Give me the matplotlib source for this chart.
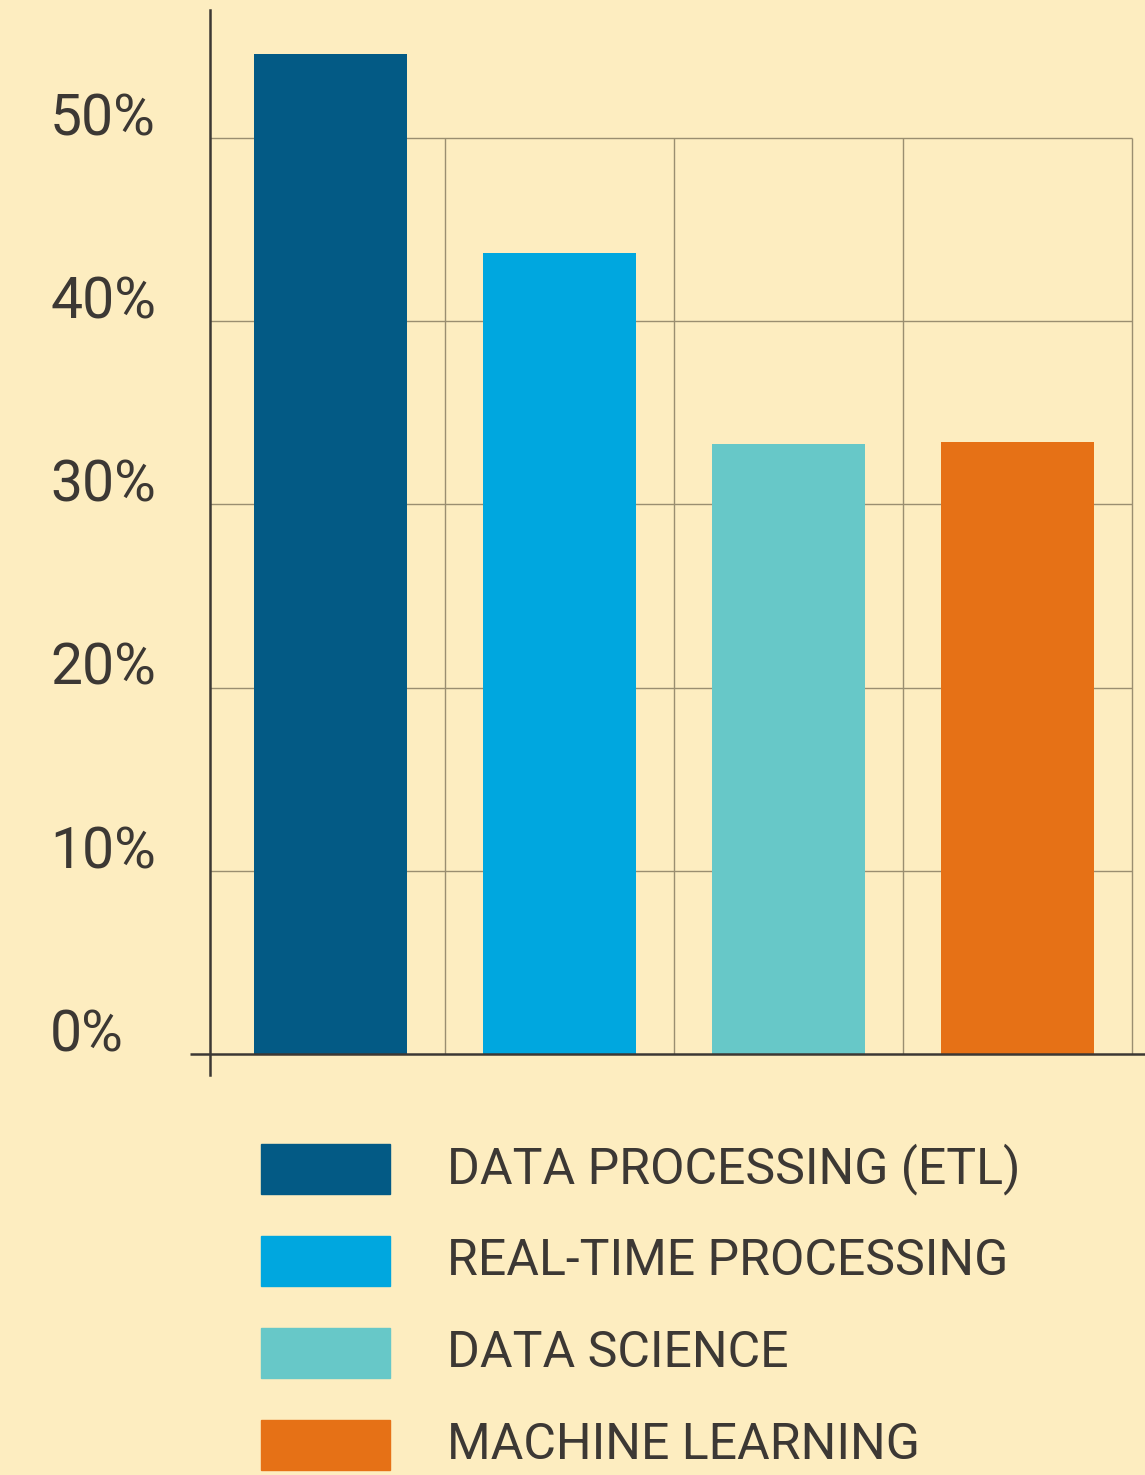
"""Share of respondents per workload type, bar chart on a cream background."""

import matplotlib.pyplot as plt
from matplotlib.patches import Rectangle

categories = ["DATA PROCESSING (ETL)", "REAL-TIME PROCESSING",
              "DATA SCIENCE", "MACHINE LEARNING"]
shares = [54.6, 43.7, 33.3, 33.4]
colors = ["#035a85", "#00a7df", "#67c8c8", "#e67116"]
y_ticks = [0, 10, 20, 30, 40, 50]
tick_labels = ["0%", "10%", "20%", "30%", "40%", "50%"]

BG = "#fdedc0"
INK = "#3c3834"
GRID = "#9a8e70"
W, H = 1145, 1475
AX_LEFT = 210  # px

plt.rcParams["font.family"] = ["Roboto", "DejaVu Sans"]


def main():
    fig = plt.figure(figsize=(W / 100, H / 100), dpi=100, facecolor=BG)
    ax = fig.add_axes([AX_LEFT / W, 1 - 1075 / H, 1 - AX_LEFT / W, (1075 - 10) / H])
    ax.set_facecolor(BG)

    xs = list(range(len(categories)))
    ax.bar(xs, shares, width=0.67, color=colors, zorder=3)

    ax.set_xlim(-0.526, 3.557)
    ax.set_ylim(-1.146, 56.99)

    # grid: horizontal lines up to the last column edge, vertical between columns
    ax.hlines(y_ticks[1:], -0.526, 3.5, color=GRID, lw=1.0, zorder=1)
    ax.vlines([x + 0.5 for x in xs], 0, 50, color=GRID, lw=1.0, zorder=1)

    # baseline sticks out a little past the y axis
    ax.plot([-0.613, 3.557], [0, 0], color=INK, lw=1.8, zorder=4,
            clip_on=False, solid_capstyle="butt")

    for s in ["top", "right", "bottom"]:
        ax.spines[s].set_visible(False)
    ax.spines["left"].set_color(INK)
    ax.spines["left"].set_linewidth(1.8)
    ax.set_xticks([])
    ax.set_yticks([])

    # tick labels sit on top of their grid line, left-aligned at the figure margin
    x_lab = (50 - AX_LEFT) / (W - AX_LEFT)
    for v, lab in zip(y_ticks, tick_labels):
        ax.text(x_lab, v + 0.15, lab, transform=ax.get_yaxis_transform(),
                fontsize=41, color=INK, ha="left", va="baseline", clip_on=False)

    # legend rows
    for i, (lab, c) in enumerate(zip(categories, colors)):
        cy = 1169 + i * 92
        fig.patches.append(Rectangle((261 / W, 1 - (cy + 25) / H), 129 / W, 50 / H,
                                     transform=fig.transFigure, color=c))
        fig.text(447 / W, 1 - cy / H, lab, fontsize=36, color=INK,
                 ha="left", va="center")

    fig.savefig("out.png", dpi=100, facecolor=BG)


if __name__ == "__main__":
    main()
